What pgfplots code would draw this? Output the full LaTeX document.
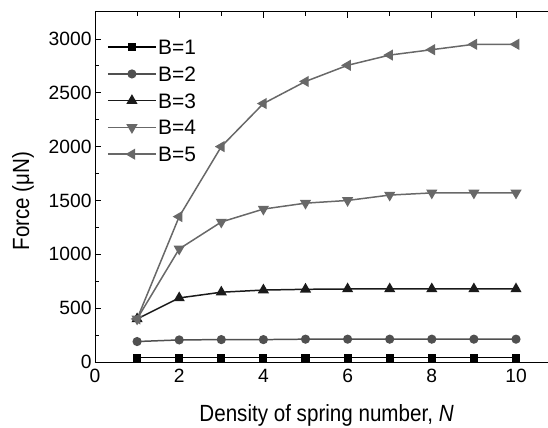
\documentclass[border=0pt]{standalone}
\usepackage{fontspec}
\setmainfont{Liberation Sans}
\newfontfamily\labelfont{Liberation Sans}[FakeStretch=0.88]
\usepackage{pgfplots}
\pgfplotsset{compat=1.18}
\definecolor{cB1}{HTML}{000000}
\definecolor{cB2}{HTML}{505050}
\definecolor{cB3}{HTML}{1A1A1A}
\definecolor{cB4}{HTML}{686868}
\definecolor{cB5}{HTML}{686868}
\begin{document}
\begin{tikzpicture}
\begin{axis}[
  at={(0,0)}, anchor=south west,
  scale only axis,
  width=463.1bp, height=350bp,
  xmin=0, xmax=11, ymin=0, ymax=3250,
  separate axis lines,
  axis x line*=box, axis y line*=left,
  axis line style={line width=1pt, black},
  xtick={0,2,...,10}, ytick={0,500,...,3000},
  minor x tick num=1, minor y tick num=1,
  tick align=inside,
  major tick length=6bp, minor tick length=4bp,
  tick style={black, line width=0.8pt},
  /pgf/number format/assume math mode=true,
  /pgf/number format/1000 sep={},
  ticklabel style={font=\fontsize{19.3}{19.3}\selectfont},
  xticklabel style={yshift=-4bp},
  xlabel={Density of spring number, \textit{N}},
  ylabel={Force (μN)},
  label style={font=\labelfont\fontsize{23.5}{23.5}\selectfont},
  xlabel style={at={(axis description cs:0.5,0)}, anchor=center, yshift=-53bp},
  ylabel style={at={(axis description cs:0,0.46)}, anchor=center, yshift=72bp},
  legend cell align=left,
  legend style={at={(0,1)}, anchor=north west, xshift=12bp, yshift=-26bp, draw=none, fill=none,
    font=\fontsize{21}{21}\selectfont, row sep=8.75bp, inner sep=0pt,
    nodes={inner sep=1.5bp, text height=15bp, text depth=0bp}},
  legend image code/.code={\draw[mark repeat=2,mark phase=2] plot coordinates {(0bp,0bp)(24bp,0bp)(48bp,0bp)};},
]
\addplot[cB1, line width=1.5pt, mark=square*, mark size=3.3bp] coordinates {
(1,40)(2,40)(3,40)(4,40)(5,40)(6,40)(7,40)(8,40)(9,40)(10,40)};
\addlegendentry{B=1}
\addplot[cB2, line width=1.5pt, mark=*, mark size=3.8bp] coordinates {
(1,190)(2,205)(3,208)(4,208)(5,212)(6,212)(7,212)(8,212)(9,212)(10,212)};
\addlegendentry{B=2}
\addplot[cB3, line width=1.5pt, mark=triangle*, mark size=5bp] coordinates {
(1,400)(2,595)(3,648)(4,668)(5,675)(6,678)(7,678)(8,678)(9,678)(10,678)};
\addlegendentry{B=3}
\addplot[cB4, line width=1.5pt, mark=triangle*, mark size=5bp, mark options={rotate=180}] coordinates {
(1,400)(2,1050)(3,1300)(4,1420)(5,1475)(6,1500)(7,1550)(8,1570)(9,1570)(10,1570)};
\addlegendentry{B=4}
\addplot[cB5, line width=1.5pt, mark=triangle*, mark size=5bp, mark options={rotate=90}] coordinates {
(1,400)(2,1350)(3,2000)(4,2400)(5,2605)(6,2755)(7,2850)(8,2900)(9,2950)(10,2950)};
\addlegendentry{B=5}
\end{axis}
\pgfresetboundingbox
\useasboundingbox (-95bp,-66bp) rectangle (453bp,362bp);
\end{tikzpicture}
\end{document}
